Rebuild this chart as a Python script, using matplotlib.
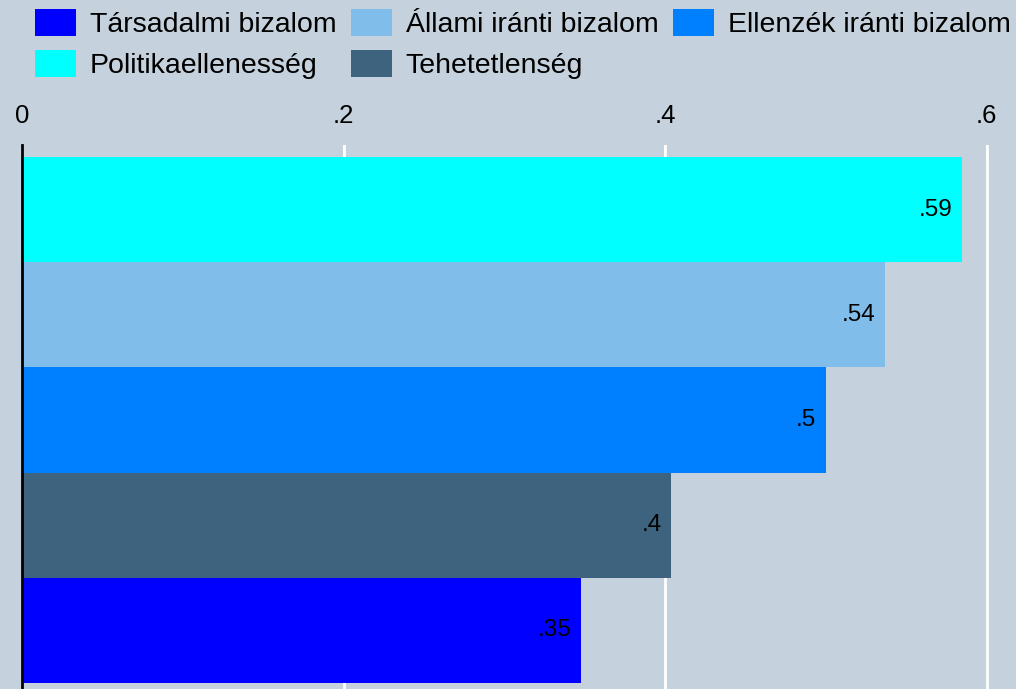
import matplotlib.pyplot as plt
from matplotlib.patches import Patch

plt.rcParams['font.family'] = ['Liberation Sans', 'DejaVu Sans']

# bars from top to bottom
categories = ['Politikaellenesség', 'Állami iránti bizalom', 'Ellenzék iránti bizalom',
              'Tehetetlenség', 'Társadalmi bizalom']
values = [0.585, 0.537, 0.500, 0.404, 0.348]
value_labels = ['.59', '.54', '.5', '.4', '.35']
colors = ['#00FFFF', '#80BDEA', '#0080FF', '#3E637E', '#0000FF']

xticks = [0, 0.2, 0.4, 0.6]
xtick_labels = ['0', '.2', '.4', '.6']

bg = '#C5D1DC'
W, H = 1016, 689
fig = plt.figure(figsize=(W / 100, H / 100), dpi=100, facecolor=bg)
ax = fig.add_axes([22 / W, 0, (W - 22) / W, 544 / H], facecolor=bg)

ypos = list(range(len(values)))[::-1]
ax.barh(ypos, values, height=1.0, color=colors, edgecolor='none', zorder=2)
for y, v, lab in zip(ypos, values, value_labels):
    ax.annotate(lab, (v, y), xytext=(-7, 0), textcoords='offset points',
                ha='right', va='center', fontsize=17.5, color='black', zorder=3)

ax.set_xlim(0, (W - 22) / 1607.5)
ax.set_ylim(-0.5 - 0.057, 4.5 + 0.114)
ax.set_xticks(xticks)
ax.set_xticklabels(xtick_labels)
ax.set_yticks([])
ax.xaxis.tick_top()
ax.tick_params(axis='x', direction='in', length=9, width=1.5, color='white',
               labelsize=18.5, pad=12)
ax.grid(axis='x', color='white', linewidth=2, zorder=1)
ax.set_axisbelow(True)
for s in ['top', 'right', 'bottom']:
    ax.spines[s].set_visible(False)
ax.spines['left'].set_color('black')
ax.spines['left'].set_linewidth(2)
ax.spines['left'].set_zorder(4)

# legend: row 1 Társadalmi, Állami, Ellenzék; row 2 Politika, Tehetetlenség
order = [4, 0, 1, 3, 2]
handles = [Patch(facecolor=colors[i], edgecolor='none', label=categories[i]) for i in order]
fig.legend(handles=handles, ncol=3, loc='upper left', bbox_to_anchor=(35 / W, 1 - 9 / H),
           frameon=False, fontsize=20.5, handlelength=1.44, handleheight=1.1,
           handletextpad=0.49, columnspacing=0.5, labelspacing=0.4, borderaxespad=0,
           borderpad=0)

fig.savefig('out.png', dpi=100, facecolor=bg)
